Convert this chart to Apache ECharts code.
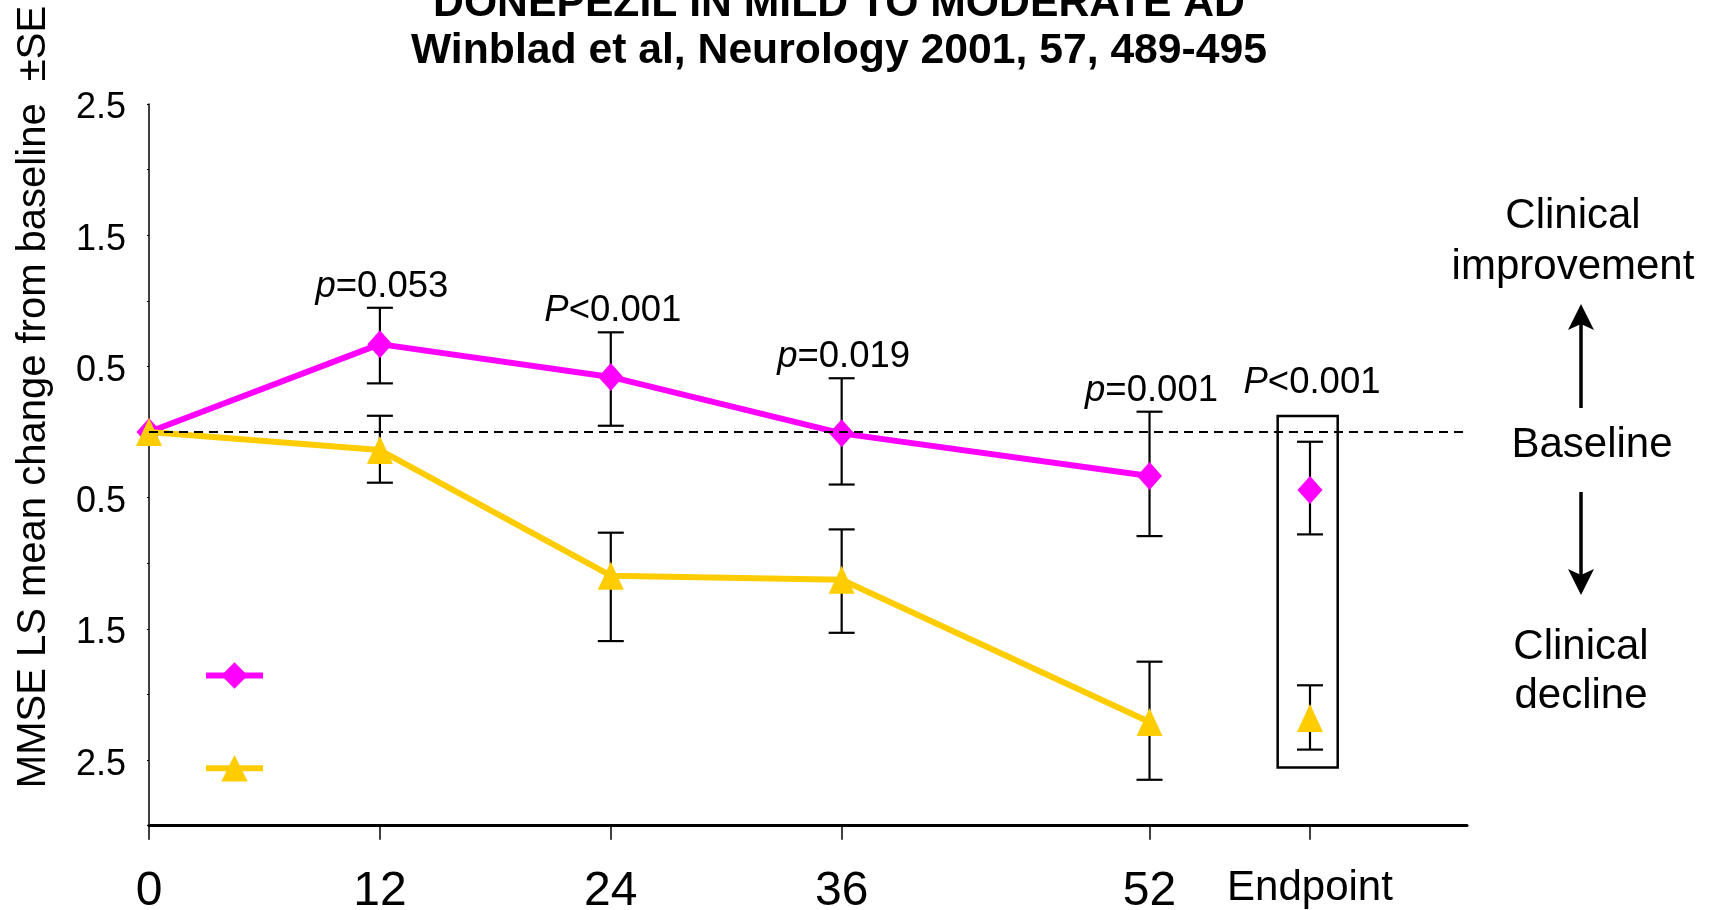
<!DOCTYPE html>
<html><head><meta charset="utf-8">
<script src="https://cdn.jsdelivr.net/npm/echarts@6/dist/echarts.min.js"></script>
<style>html,body{margin:0;padding:0;background:#fff}#c{width:1712px;height:910px}</style>
</head><body><div id="c"></div>
<script>
// ---- data ----
const weeks = [0, 12, 24, 36, 52];
const endpointWeek = 60.34;   // the "Endpoint" slot on the week axis
const xTickValues = [0, 12, 24, 36, 52, endpointWeek];
const xTickLabels = ['0', '12', '24', '36', '52', 'Endpoint'];
const yTickValues = [-2.5, -1.5, -0.5, 0.5, 1.5, 2.5];
const yTickLabels = ['2.5', '1.5', '0.5', '0.5', '1.5', '2.5'];

const donepezilMean = [0, 0.67, 0.42, -0.01, -0.335];
const donepezilEndpoint = -0.442;
const errWeeks = [12, 24, 36, 52, endpointWeek];
const donepezilHi = [0.947, 0.76, 0.41, 0.155, -0.074];
const donepezilLo = [0.371, 0.048, -0.40, -0.793, -0.78];

const placeboMean = [0, -0.137, -1.095, -1.125, -2.21];
const placeboEndpoint = -2.18;
const placeboHi = [0.124, -0.767, -0.742, -1.75, -1.93];
const placeboLo = [-0.386, -1.593, -1.53, -2.65, -2.42];

const pLabels = [['p', '=0.053'], ['P', '<0.001'], ['p', '=0.019'], ['p', '=0.001'], ['P', '<0.001']];

const titleLines = ['DONEPEZIL IN MILD TO MODERATE AD', 'Winblad et al, Neurology 2001, 57, 489-495'];
const yName = 'MMSE LS mean change from baseline  \u00b1SE';
const seriesNames = ['Donepezil', 'Placebo'];

// ---- styles ----
const FONT = '"Liberation Sans", Arial, Helvetica, sans-serif';
const MAGENTA = '#FF00FF';
const YELLOW = '#FFCC00';
const BOX = {x0: 58.66, x1: 61.78, y0: 0.122, y1: -2.556};

function errData(hi, lo) {
  return errWeeks.map((w, i) => [w, lo[i], hi[i], i]);
}

function errRender(withLabels) {
  return function (params, api) {
    const x = api.value(0), lo = api.value(1), hi = api.value(2), idx = api.value(3);
    const pH = api.coord([x, hi]);
    const pL = api.coord([x, lo]);
    const w = 13;
    const st = {stroke: '#000', lineWidth: 2.2};
    const children = [
      {type: 'line', shape: {x1: pH[0], y1: pH[1], x2: pL[0], y2: pL[1]}, style: st},
      {type: 'line', shape: {x1: pH[0] - w, y1: pH[1], x2: pH[0] + w, y2: pH[1]}, style: st},
      {type: 'line', shape: {x1: pL[0] - w, y1: pL[1], x2: pL[0] + w, y2: pL[1]}, style: st}
    ];
    if (withLabels) {
      let ty;
      if (x === endpointWeek) ty = api.coord([x, BOX.y0])[1] - 33;
      else ty = pH[1] - 21;
      const lab = pLabels[idx];
      children.push({
        type: 'text',
        style: {
          x: pH[0] + 2, y: ty,
          text: '{i|' + lab[0] + '}{n|' + lab[1] + '}',
          align: 'center', verticalAlign: 'middle',
          rich: {
            i: {fontStyle: 'italic', fontSize: 36.5, fontFamily: FONT, fill: '#000'},
            n: {fontSize: 36.5, fontFamily: FONT, fill: '#000'}
          }
        }
      });
    }
    return {type: 'group', children};
  };
}

const chart = echarts.init(document.getElementById('c'), null, {renderer: 'canvas'});

const arrowUp = {
  type: 'group',
  children: [
    {type: 'line', shape: {x1: 1581, y1: 408, x2: 1581, y2: 320}, style: {stroke: '#000', lineWidth: 3.5}},
    {type: 'polygon', shape: {points: [[1581, 304], [1568, 330], [1581, 324], [1594, 330]]}, style: {fill: '#000'}}
  ]
};
const arrowDown = {
  type: 'group',
  children: [
    {type: 'line', shape: {x1: 1581, y1: 492, x2: 1581, y2: 579}, style: {stroke: '#000', lineWidth: 3.5}},
    {type: 'polygon', shape: {points: [[1581, 595], [1568, 569], [1581, 575], [1594, 569]]}, style: {fill: '#000'}}
  ]
};

const option = {
  animation: false,
  backgroundColor: '#fff',
  grid: {left: 149, right: 245, top: 104, bottom: 84.3, containLabel: false, outerBoundsMode: 'none'},
  legend: {
    show: true,
    orient: 'vertical',
    left: 198, top: 654,
    padding: 5,
    itemWidth: 57, itemHeight: 33, itemGap: 63,
    data: seriesNames,
    selectedMode: false,
    formatter: () => '',
    textStyle: {fontSize: 1},
    lineStyle: {width: 6}
  },
  xAxis: {
    type: 'value', min: 0, max: 68.5,
    splitLine: {show: false},
    axisLine: {show: true, onZero: false, lineStyle: {color: '#000', width: 3}},
    axisTick: {show: true, customValues: xTickValues, length: 14, lineStyle: {color: '#000', width: 1.5}},
    axisLabel: {
      customValues: xTickValues,
      margin: 42,
      formatter: (v) => {
        const i = xTickValues.findIndex(t => Math.abs(t - v) < 1e-6);
        const t = i >= 0 ? xTickLabels[i] : '';
        return i === xTickValues.length - 1 ? '{e|' + t + '}' : '{n|' + t + '}';
      },
      rich: {
        n: {fontSize: 48, fontFamily: FONT, color: '#000'},
        e: {fontSize: 42, fontFamily: FONT, color: '#000'}
      }
    }
  },
  yAxis: {
    type: 'value', min: -3, max: 2.5, interval: 0.5,
    splitLine: {show: false},
    axisLine: {show: true, lineStyle: {color: '#000', width: 1.5}},
    axisTick: {show: true, length: 2, lineStyle: {color: '#000', width: 1}},
    axisLabel: {
      customValues: yTickValues,
      margin: 23,
      verticalAlign: 'top',
      lineHeight: 9,
      fontSize: 36, fontFamily: FONT, color: '#000',
      formatter: (v) => {
        const i = yTickValues.findIndex(t => Math.abs(t - v) < 1e-9);
        return i >= 0 ? yTickLabels[i] : '';
      }
    }
  },
  graphic: [
    {type: 'text', x: 839, y: 4.5, style: {text: titleLines[0], font: 'bold 42.7px ' + FONT, fill: '#000', align: 'center', verticalAlign: 'middle'}},
    {type: 'text', x: 839, y: 51.5, style: {text: titleLines[1], font: 'bold 42.7px ' + FONT, fill: '#000', align: 'center', verticalAlign: 'middle'}},
    {type: 'text', x: 34, y: 397, rotation: Math.PI / 2, style: {text: yName, font: '40px ' + FONT, fill: '#000', align: 'center', verticalAlign: 'middle'}},
    {type: 'text', x: 1573, y: 242, style: {text: 'Clinical\nimprovement', font: '42px ' + FONT, lineHeight: 51, fill: '#000', align: 'center', verticalAlign: 'middle'}},
    {type: 'text', x: 1592, y: 445.5, style: {text: 'Baseline', font: '42px ' + FONT, fill: '#000', align: 'center', verticalAlign: 'middle'}},
    {type: 'text', x: 1581, y: 672, style: {text: 'Clinical\ndecline', font: '42px ' + FONT, lineHeight: 49, fill: '#000', align: 'center', verticalAlign: 'middle'}},
    arrowUp, arrowDown
  ],
  series: [
    {
      type: 'custom', name: 'errD', z: 1, silent: true,
      renderItem: errRender(true),
      encode: {x: 0, y: [1, 2]},
      data: errData(donepezilHi, donepezilLo)
    },
    {
      type: 'custom', name: 'errP', z: 1, silent: true,
      renderItem: errRender(false),
      encode: {x: 0, y: [1, 2]},
      data: errData(placeboHi, placeboLo)
    },
    {
      type: 'line', name: seriesNames[0], z: 3,
      data: weeks.map((w, i) => [w, donepezilMean[i]]),
      symbol: 'diamond', symbolSize: [25, 28],
      lineStyle: {color: MAGENTA, width: 6},
      itemStyle: {color: MAGENTA},
      markLine: {
        silent: true, symbol: 'none', label: {show: false},
        lineStyle: {color: '#000', width: 2.2, type: [9, 6]},
        data: [{yAxis: 0}]
      }
    },
    {
      type: 'line', name: seriesNames[1], z: 4,
      data: weeks.map((w, i) => [w, placeboMean[i]]),
      symbol: 'triangle', symbolSize: [26, 28],
      lineStyle: {color: YELLOW, width: 6},
      itemStyle: {color: YELLOW}
    },
    {
      type: 'scatter', name: 'DonepezilEnd', z: 3,
      data: [[endpointWeek, donepezilEndpoint]],
      symbol: 'diamond', symbolSize: [25, 28],
      itemStyle: {color: MAGENTA, opacity: 1},
      markArea: {
        silent: true,
        itemStyle: {color: 'rgba(0,0,0,0)', borderColor: '#000', borderWidth: 2.5},
        data: [[{coord: [BOX.x0, BOX.y0]}, {coord: [BOX.x1, BOX.y1]}]]
      }
    },
    {
      type: 'scatter', name: 'PlaceboEnd', z: 4,
      data: [[endpointWeek, placeboEndpoint]],
      symbol: 'triangle', symbolSize: [26, 28],
      itemStyle: {color: YELLOW, opacity: 1}
    }
  ]
};
chart.setOption(option);
</script>
</body></html>
